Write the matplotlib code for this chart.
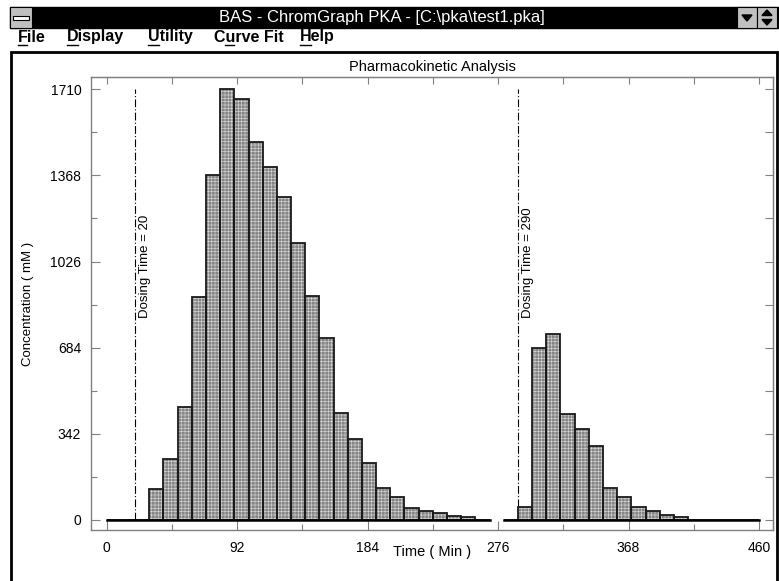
import numpy as np
import matplotlib
matplotlib.use("Agg")
import matplotlib.pyplot as plt
from matplotlib import font_manager
from matplotlib.patches import Rectangle, Polygon

W, H = 779, 581

# concentration per 10 min bin, bin start times in minutes
TIME_1 = np.arange(0, 270, 10)
CONC_1 = [0, 0, 0, 122, 241, 450, 885, 1371, 1710, 1670, 1500, 1400, 1281, 1100,
          889, 724, 424, 322, 228, 127, 93, 46, 36, 27, 17, 13, 0]
TIME_2 = np.arange(280, 460, 10)
CONC_2 = [0, 50, 684, 737, 422, 360, 294, 126, 92, 50, 36, 19, 13, 0, 0, 0, 0, 0]
BIN = 10
DOSING = [20, 290]

X_TICKS = [0, 92, 184, 276, 368, 460]
Y_TICKS = [0, 342, 684, 1026, 1368, 1710]

WIN_TITLE = "BAS - ChromGraph PKA - [C:\\pka\\test1.pka]"
MENU = ["File", "Display", "Utility", "Curve Fit", "Help"]
MENU_X = [18, 67, 148, 214, 300]
MENU_UL = [0, 0, 0, 1, 0]   # underlined letter index


def pick(*names):
    avail = {f.name for f in font_manager.fontManager.ttflist}
    for n in names:
        if n in avail:
            return n
    return "DejaVu Sans"


NARROW = pick("Liberation Sans Narrow", "Liberation Sans", "Arimo")
SANS = pick("Liberation Sans", "Arimo")
plt.rcParams["font.family"] = SANS
plt.rcParams["hatch.linewidth"] = 0.4

fig = plt.figure(figsize=(W / 100, H / 100), dpi=100)

# window chrome drawn in pixel coordinates
bg = fig.add_axes([0, 0, 1, 1])
bg.set_xlim(0, W)
bg.set_ylim(H, 0)
bg.axis("off")

bg.add_patch(Rectangle((10, 7), W - 10, 21, color="black"))
bg.text(382, 17.5, WIN_TITLE, color="white", fontsize=12, family=NARROW,
        ha="center", va="center")

# system menu box
bg.add_patch(Rectangle((10, 7), 22, 21, facecolor="#c0c0c0", edgecolor="black", lw=0.8))
bg.add_patch(Rectangle((13, 15.5), 16, 4, facecolor="white", edgecolor="black", lw=0.8))

# minimize / restore buttons
for bx in [737, 757]:
    bg.add_patch(Rectangle((bx, 7), 20, 21, facecolor="#c0c0c0", edgecolor="black", lw=0.8))
bg.add_patch(Polygon([[742, 15], [752, 15], [747, 21]], color="black"))
bg.add_patch(Polygon([[762, 15.5], [772, 15.5], [767, 10]], color="black"))
bg.add_patch(Polygon([[762, 19.5], [772, 19.5], [767, 25]], color="black"))

# menu bar
renderer = fig.canvas.get_renderer()
for label, mx, ul in zip(MENU, MENU_X, MENU_UL):
    bg.text(mx, 37, label, fontsize=11.5, fontweight="bold", family=NARROW,
            ha="left", va="center")
    pre = bg.text(mx, 37, label[:ul], fontsize=11.5, fontweight="bold", family=NARROW)
    ch = bg.text(mx, 37, label[:ul + 1], fontsize=11.5, fontweight="bold", family=NARROW)
    x0 = pre.get_window_extent(renderer).width if ul else 0
    x1 = ch.get_window_extent(renderer).width
    pre.remove()
    ch.remove()
    bg.plot([mx + x0, mx + x1 - 1], [45, 45], color="black", lw=1)

# chart panel border
bg.plot([11, 11, 777.5, 777.5], [H, 51.5, 51.5, H], color="black", lw=2,
        solid_joinstyle="miter")

# chart
ax = fig.add_axes([91 / W, (H - 530) / H, 682 / W, 453 / H])
ax.set_xlim(-11.1, 469.9)
ax.set_ylim(-39.7, 1758.6)

for t, c in [(TIME_1, CONC_1), (TIME_2, CONC_2)]:
    ax.bar(t, c, width=BIN, align="edge", facecolor="#858585", edgecolor="#d9d9d9",
           hatch="+++++", lw=0, zorder=2)
    ax.bar(t, c, width=BIN, align="edge", fill=False, edgecolor="#1a1a1a", lw=1.3, zorder=3)
    ax.plot([t[0], t[-1] + BIN], [0, 0], color="black", lw=1.8, zorder=3)

for d in DOSING:
    ax.plot([d, d], [0, max(CONC_1)], color="black", lw=0.8,
            linestyle=(0, (7, 2, 1, 2)), zorder=1)
    ax.annotate(f"Dosing Time = {d}", (d, 802), xytext=(3, 0), textcoords="offset points",
                rotation=90, ha="left", va="bottom", fontsize=9.5, family=NARROW)

for s in ax.spines.values():
    s.set_color("#808080")
    s.set_linewidth(1)

ax.set_xticks(X_TICKS)
ax.set_xticks(np.arange(46, 460, 92), minor=True)
ax.set_yticks(Y_TICKS)
ax.set_yticks(np.arange(171, 1710, 342), minor=True)
ax.set_yticklabels([str(v) for v in Y_TICKS])
ax.tick_params(which="major", direction="in", length=6.5, width=0.8, color="#808080",
               labelsize=10, pad=7)
ax.tick_params(which="minor", direction="in", length=4.3, width=0.8, color="#808080")
ax.tick_params(axis="x", pad=8)

top = ax.secondary_xaxis("top")
top.set_xticks(np.arange(0, 461, 46))
top.tick_params(direction="in", length=5, width=0.8, color="#808080", labeltop=False)
top.spines["top"].set_color("#808080")
right = ax.secondary_yaxis("right")
right.set_yticks(np.arange(0, 1711, 171))
right.tick_params(direction="in", length=5.8, width=0.8, color="#808080", labelright=False)
right.spines["right"].set_color("#808080")

ax.set_title("Pharmacokinetic Analysis", fontsize=10.5, pad=4)
ax.set_ylabel("Concentration ( mM )", fontsize=9.5, family=NARROW, labelpad=12)
ax.set_xlabel("Time ( Min )", fontsize=10.5, family=NARROW, labelpad=-7)

fig.savefig("out.png", dpi=100)
